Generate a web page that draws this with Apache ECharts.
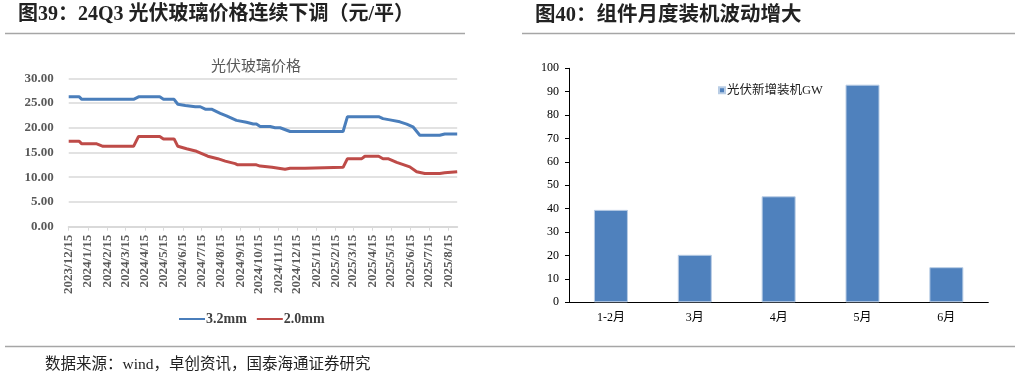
<!DOCTYPE html>
<html>
<head>
<meta charset="utf-8">
<style>
  html, body { margin: 0; padding: 0; background: #fff; }
  #main { width: 1020px; height: 376px; }
</style>
<script src="https://cdn.jsdelivr.net/npm/echarts@6/dist/echarts.min.js"></script>
</head>
<body>
<div id="main"></div>
<script>
// left chart: glass price (yuan / sqm), breakpoints
const glass32 = [
  ['2023-12-15', 26.25], ['2024-01-01', 26.25], ['2024-01-05', 25.75], ['2024-01-31', 25.75],
  ['2024-02-03', 25.5], ['2024-02-08', 25.75], ['2024-03-28', 25.75], ['2024-04-05', 26.25],
  ['2024-05-09', 26.25], ['2024-05-15', 25.75], ['2024-06-01', 25.75], ['2024-06-07', 24.75],
  ['2024-06-19', 24.5], ['2024-07-05', 24.25], ['2024-07-13', 24.25], ['2024-07-21', 23.75],
  ['2024-07-31', 23.75], ['2024-08-14', 22.9], ['2024-08-24', 22.4], ['2024-09-09', 21.5],
  ['2024-09-25', 21.1], ['2024-10-06', 20.75], ['2024-10-11', 20.75], ['2024-10-17', 20.25],
  ['2024-11-02', 20.25], ['2024-11-10', 20.0], ['2024-11-18', 20.0], ['2024-12-04', 19.25],
  ['2025-02-27', 19.25], ['2025-03-06', 22.25], ['2025-04-25', 22.25], ['2025-05-02', 21.85],
  ['2025-05-13', 21.6], ['2025-05-29', 21.2], ['2025-06-09', 20.75], ['2025-06-19', 20.2],
  ['2025-06-30', 18.5], ['2025-08-01', 18.5], ['2025-08-09', 18.75], ['2025-08-29', 18.75]
];
const glass20 = [
  ['2023-12-15', 17.25], ['2024-01-01', 17.25], ['2024-01-05', 16.75], ['2024-01-29', 16.75],
  ['2024-02-08', 16.25], ['2024-03-28', 16.25], ['2024-04-05', 18.25], ['2024-05-09', 18.25],
  ['2024-05-15', 17.75], ['2024-06-01', 17.75], ['2024-06-07', 16.25], ['2024-06-21', 15.75],
  ['2024-07-07', 15.25], ['2024-07-25', 14.25], ['2024-08-10', 13.75], ['2024-08-22', 13.25],
  ['2024-09-07', 12.75], ['2024-09-11', 12.5], ['2024-10-11', 12.5], ['2024-10-17', 12.25],
  ['2024-11-05', 12.0], ['2024-11-26', 11.6], ['2024-12-04', 11.8], ['2024-12-28', 11.8],
  ['2024-12-31', 12.0], ['2025-02-27', 12.0], ['2025-03-06', 13.75], ['2025-03-29', 13.75],
  ['2025-04-03', 14.25], ['2025-04-25', 14.25], ['2025-05-02', 13.75], ['2025-05-10', 13.75],
  ['2025-05-24', 13.0], ['2025-06-14', 12.1], ['2025-06-25', 11.1], ['2025-07-08', 10.75],
  ['2025-08-01', 10.75], ['2025-08-09', 10.9], ['2025-08-29', 11.1]
];
const dateTicks = [
  '2023/12/15', '2024/1/15', '2024/2/15', '2024/3/15', '2024/4/15', '2024/5/15', '2024/6/15',
  '2024/7/15', '2024/8/15', '2024/9/15', '2024/10/15', '2024/11/15', '2024/12/15', '2025/1/15',
  '2025/2/15', '2025/3/15', '2025/4/15', '2025/5/15', '2025/6/15', '2025/7/15', '2025/8/15'
];

// right chart: monthly PV installs (GW)
const months = ['1-2月', '3月', '4月', '5月', '6月'];
const installs = [39.5, 20.3, 45.3, 93.0, 15.0];

function toTime(s) {
  const p = s.split(/[\/-]/).map(Number);
  return new Date(p[0], p[1] - 1, p[2]).getTime();
}
const tickTimes = dateTicks.map(toTime);
const toPoints = (arr) => arr.map(d => [toTime(d[0]), d[1]]);

const serif = '"Times New Roman", "Liberation Serif", "Noto Sans CJK SC"';
const greyText = '#595959';

const chart = echarts.init(document.getElementById('main'));

const option = {
  animation: false,
  title: [
    {
      text: '光伏玻璃价格',
      left: 251,
      top: 53,
      textAlign: 'center',
      textStyle: { color: greyText, fontSize: 15, fontWeight: 'normal', fontFamily: 'Noto Sans CJK SC' }
    }
  ],
  legend: [
    {
      data: ['3.2mm', '2.0mm'],
      left: 174,
      top: 307,
      itemWidth: 26,
      itemHeight: 10,
      itemGap: 10,
      icon: 'path://M0,4 L26,4 L26,6 L0,6 Z',
      textStyle: { color: '#404040', fontSize: 14, fontWeight: 'bold', fontFamily: serif, padding: [0, 0, 0, -4] }
    },
    {
      data: ['光伏新增装机GW'],
      left: 713,
      top: 79,
      icon: 'rect',
      itemWidth: 6,
      itemHeight: 6,
      textStyle: { color: '#222', fontSize: 12.5, fontFamily: serif, padding: [0, 0, 0, -3] }
    }
  ],
  grid: [
    { left: 68.7, top: 78.3, width: 388.5, height: 148.4 },
    { left: 569, top: 68.3, width: 419.3, height: 234 }
  ],
  xAxis: [
    {
      type: 'value',
      gridIndex: 0,
      min: toTime('2023-12-15'),
      max: toTime('2025-08-29'),
      axisLine: { lineStyle: { color: '#d9d9d9', width: 2 } },
      axisTick: { show: true, customValues: tickTimes, length: 4, lineStyle: { color: '#d9d9d9' } },
      splitLine: { show: false },
      axisLabel: {
        customValues: tickTimes,
        rotate: 90,
        margin: 8,
        color: greyText,
        fontSize: 13,
        fontWeight: 'bold',
        fontFamily: serif,
        formatter: function (v) {
          const d = new Date(v);
          return d.getFullYear() + '/' + (d.getMonth() + 1) + '/' + d.getDate();
        }
      }
    },
    {
      type: 'category',
      gridIndex: 1,
      data: months,
      axisLine: { lineStyle: { color: '#000', width: 1 } },
      axisTick: { show: false },
      axisLabel: { color: '#000', fontSize: 12, margin: 10, fontFamily: serif }
    }
  ],
  yAxis: [
    {
      type: 'value',
      gridIndex: 0,
      min: 0,
      max: 30,
      interval: 5,
      axisLine: { show: false },
      axisTick: { show: false },
      splitLine: { lineStyle: { color: '#d9d9d9', width: 1.5 } },
      axisLabel: {
        margin: 15,
        color: greyText,
        fontSize: 13,
        fontWeight: 'bold',
        fontFamily: serif,
        formatter: function (v) { return v.toFixed(2); }
      }
    },
    {
      type: 'value',
      gridIndex: 1,
      min: 0,
      max: 100,
      interval: 10,
      axisLine: { show: true, lineStyle: { color: '#000', width: 1 } },
      axisTick: { show: true, inside: false, length: 4, lineStyle: { color: '#000' } },
      splitLine: { show: false },
      axisLabel: { margin: 10, color: '#000', fontSize: 12, fontFamily: serif }
    }
  ],
  series: [
    {
      name: '3.2mm',
      type: 'line',
      xAxisIndex: 0,
      yAxisIndex: 0,
      data: toPoints(glass32),
      symbol: 'none',
      lineStyle: { color: '#4a7ebb', width: 3 },
      itemStyle: { color: '#4a7ebb' }
    },
    {
      name: '2.0mm',
      type: 'line',
      xAxisIndex: 0,
      yAxisIndex: 0,
      data: toPoints(glass20),
      symbol: 'none',
      lineStyle: { color: '#be4b48', width: 3 },
      itemStyle: { color: '#be4b48' }
    },
    {
      name: '光伏新增装机GW',
      type: 'bar',
      xAxisIndex: 1,
      yAxisIndex: 1,
      data: installs,
      barWidth: 34,
      itemStyle: { color: '#4f81bd', borderColor: '#b9cde5', borderWidth: 1 }
    }
  ],
  graphic: [
    {
      type: 'text',
      left: 18,
      top: 5,
      style: { text: '图39：24Q3 光伏玻璃价格连续下调（元/平）', fill: '#222', font: 'bold 20px ' + serif }
    },
    {
      type: 'text',
      left: 535,
      top: 5,
      style: { text: '图40：组件月度装机波动增大', fill: '#222', font: 'bold 20.5px ' + serif }
    },
    {
      type: 'line',
      shape: { x1: 5, y1: 33.5, x2: 465, y2: 33.5 },
      style: { stroke: '#a6a6a6', lineWidth: 1.5 }
    },
    {
      type: 'line',
      shape: { x1: 522, y1: 33.5, x2: 1015, y2: 33.5 },
      style: { stroke: '#a6a6a6', lineWidth: 1.5 }
    },
    {
      type: 'line',
      shape: { x1: 5, y1: 346.5, x2: 1015, y2: 346.5 },
      style: { stroke: '#a6a6a6', lineWidth: 1.5 }
    },
    {
      type: 'text',
      left: 45,
      top: 357,
      style: { text: '数据来源：wind，卓创资讯，国泰海通证券研究', fill: '#222', font: '15.5px ' + serif }
    }
  ]
};

chart.setOption(option);
</script>
</body>
</html>
